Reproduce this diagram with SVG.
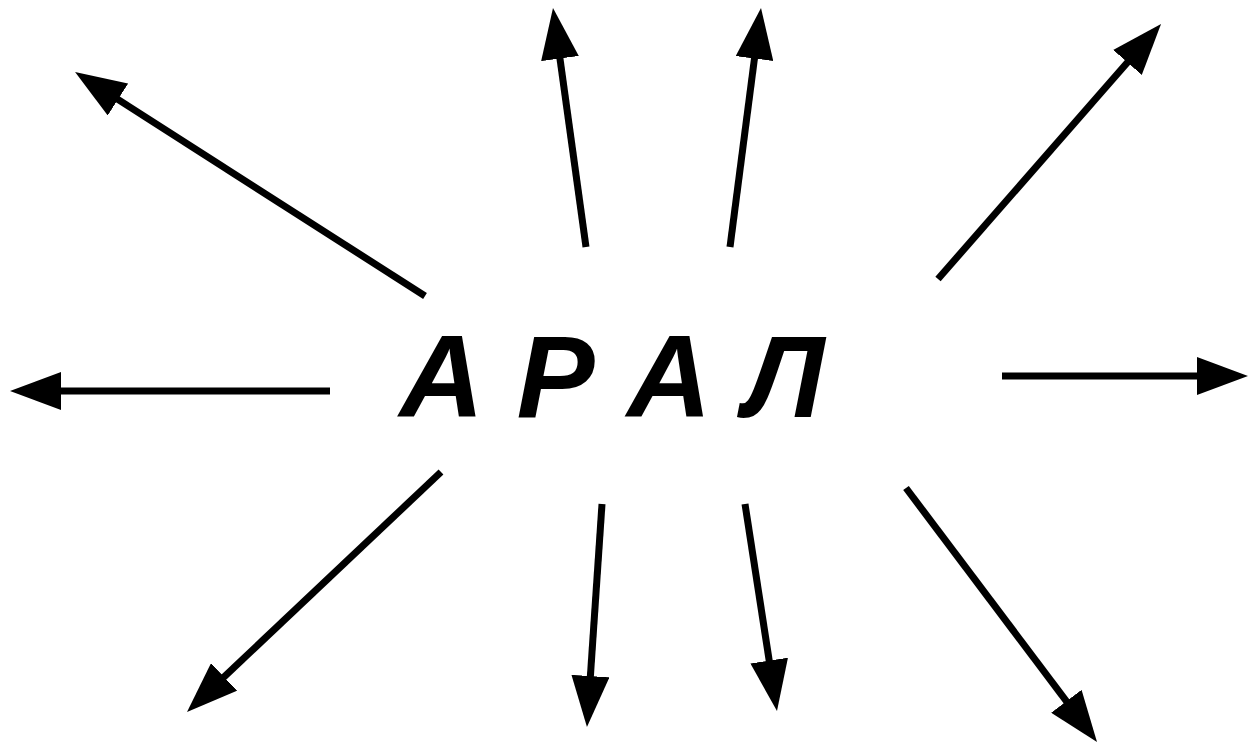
<svg xmlns="http://www.w3.org/2000/svg" width="1248" height="742" viewBox="0 0 1248 742">
<style>
.c line{stroke:#000;stroke-width:7;marker-end:url(#ah)}
.t{font-family:"Liberation Sans",Arial,sans-serif;font-weight:bold;font-style:italic;font-size:117px;fill:#000}
</style>
<defs>
<marker id="ah" markerUnits="userSpaceOnUse" viewBox="0 0 51 38" markerWidth="51" markerHeight="38" refX="40" refY="19" orient="auto">
<path d="M0,0 L51,19 L0,38 z" fill="#000"/>
</marker>
</defs>
<rect width="1248" height="742" fill="#fff"/>
<g id="label"><text class="t" x="612" y="417" text-anchor="middle">А Р А Л</text></g>
<g id="connectors" class="c">
<line x1="330" y1="391" x2="21" y2="391"/>
<line x1="1002" y1="376" x2="1237" y2="376"/>
<line x1="586" y1="247" x2="554.5" y2="18.9"/>
<line x1="730" y1="247" x2="759.6" y2="18.9"/>
<line x1="425" y1="296" x2="84.3" y2="77.9"/>
<line x1="938" y1="279" x2="1153.8" y2="32.3"/>
<line x1="441" y1="472" x2="195" y2="704.4"/>
<line x1="602" y1="504" x2="587.7" y2="716"/>
<line x1="745" y1="504" x2="775.3" y2="700.1"/>
<line x1="906" y1="488" x2="1090.4" y2="733.2"/>
</g>
</svg>
